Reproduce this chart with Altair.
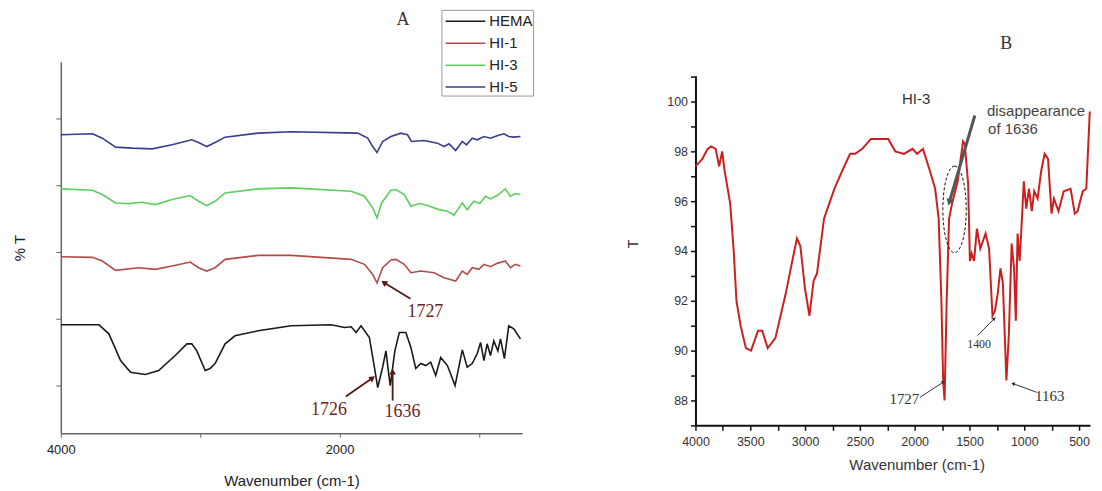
import altair as alt
import pandas as pd

# ---------------- Panel A data (offset %T, arbitrary units) ----------------
series_names = ["HEMA", "HI-1", "HI-3", "HI-5"]
series_colors = ["#1a1a1a", "#b24c4a", "#5ccf5c", "#3a3c8e"]

wn_hema = [4000, 3726, 3655, 3571, 3500, 3393, 3298, 3179, 3095, 3060,
           3024, 2964, 2929, 2893, 2821, 2750, 2584, 2346, 2060, 1964,
           1917, 1881, 1846, 1786, 1750, 1726, 1691, 1667, 1650, 1636,
           1603, 1571, 1524, 1488, 1453, 1417, 1381, 1346, 1310, 1274,
           1226, 1171, 1119, 1084, 1048, 1012, 988, 964, 941, 917,
           893, 864, 845, 817, 786, 750, 702]
t_hema = [38.2, 38.2, 35.5, 27.5, 24.0, 23.3, 24.5, 29.0, 32.5, 32.5,
          30.4, 24.5, 25.1, 26.6, 32.5, 34.9, 36.4, 37.9, 38.2, 37.4,
          37.6, 35.9, 37.9, 34.4, 25.5, 19.4, 25.5, 30.4, 24.5, 20.0,
          30.4, 35.9, 35.9, 31.4, 25.1, 26.6, 26.0, 27.0, 23.0, 28.4,
          26.0, 20.0, 30.7, 25.5, 26.6, 29.6, 32.9, 27.5, 32.5, 29.0,
          33.4, 30.4, 34.0, 28.1, 37.9, 37.0, 34.0]

wn_hi1 = [4000, 3774, 3702, 3607, 3441, 3321, 3202, 3071, 3012, 2953,
          2893, 2821, 2584, 2346, 1917, 1821, 1762, 1731, 1691, 1631,
          1596, 1536, 1488, 1417, 1322, 1250, 1167, 1119, 1084, 1048,
          1000, 964, 917, 869, 810, 774, 738, 702]
t_hi1 = [58.6, 58.4, 57.3, 54.5, 55.3, 54.8, 55.8, 57.0, 55.3, 54.3,
         55.3, 57.8, 59.0, 59.0, 57.8, 56.3, 53.3, 50.7, 55.3, 57.6,
         57.8, 56.3, 53.8, 54.3, 53.8, 52.3, 51.3, 54.3, 53.3, 55.3,
         54.8, 56.3, 55.6, 56.6, 57.3, 55.3, 56.3, 55.8]

wn_hi3 = [4000, 3774, 3702, 3607, 3512, 3417, 3321, 3202, 3071, 3012,
          2953, 2893, 2821, 2584, 2346, 1917, 1821, 1762, 1731, 1698,
          1631, 1596, 1536, 1488, 1429, 1369, 1286, 1226, 1179, 1119,
          1084, 1036, 993, 953, 917, 869, 810, 774, 738, 702]
t_hi3 = [78.9, 78.5, 77.2, 74.7, 74.5, 74.9, 74.2, 75.7, 76.9, 75.2,
         73.9, 75.2, 77.7, 78.9, 79.2, 78.2, 76.7, 73.2, 70.2, 74.7,
         78.5, 78.7, 77.2, 73.7, 74.5, 73.9, 72.7, 72.2, 71.0, 74.7,
         72.7, 75.2, 74.5, 76.7, 75.9, 76.9, 78.9, 76.7, 77.5, 77.2]

wn_hi5 = [4000, 3774, 3702, 3607, 3488, 3345, 3202, 3060, 3012, 2953,
          2893, 2821, 2584, 2346, 1869, 1798, 1762, 1731, 1691, 1631,
          1560, 1512, 1484, 1393, 1298, 1250, 1214, 1167, 1119, 1089,
          1048, 1012, 964, 917, 869, 821, 786, 750, 702]
t_hi5 = [95.1, 95.4, 94.1, 91.4, 91.1, 90.9, 92.1, 93.6, 92.8, 91.6,
         92.8, 94.4, 95.6, 96.0, 95.6, 94.1, 91.6, 89.8, 93.1, 94.6,
         95.6, 95.1, 93.1, 93.4, 92.6, 91.6, 92.4, 90.4, 93.1, 92.1,
         94.1, 93.6, 94.6, 94.1, 94.8, 95.4, 94.6, 94.4, 94.6]

# Panel A annotations (peak labels and arrows), in data units
a_text = ["1727", "1726", "1636"]
a_text_wn = [1384, 2076, 1548]
a_text_t = [42.1, 12.8, 12.2]
a_arrow_wn = [1491, 1955, 1619]
a_arrow_t = [46.0, 16.7, 15.5]
a_head_wn = [1676, 1769, 1619]
a_head_t = [50.7, 22.1, 23.9]
a_head_angle = [302, 55, 0]

# ---------------- Panel B data (HI-3, %T) ----------------
wn_b = [4000, 3937, 3889, 3857, 3816, 3784, 3756, 3737, 3683, 3651,
        3626, 3588, 3540, 3493, 3429, 3391, 3341, 3271, 3176, 3112,
        3074, 3043, 3001, 2960, 2922, 2891, 2827, 2732, 2653, 2589,
        2542, 2478, 2399, 2288, 2241, 2177, 2098, 2019, 1978, 1924,
        1860, 1813, 1781, 1756, 1740, 1727, 1708, 1686, 1654, 1607,
        1559, 1543, 1512, 1496, 1480, 1458, 1432, 1401, 1353, 1321,
        1290, 1267, 1242, 1217, 1195, 1163, 1141, 1115, 1093, 1077,
        1061, 1042, 1027, 1004, 982, 957, 931, 909, 878, 846,
        814, 783, 751, 729, 688, 640, 577, 539, 513, 466,
        434, 402]
t_b = [97.4, 97.7, 98.1, 98.2, 98.1, 97.4, 98.0, 97.3, 95.9, 94.0,
       92.0, 91.0, 90.1, 90.0, 90.8, 90.8, 90.1, 90.5, 92.3, 93.7,
       94.5, 94.2, 92.5, 91.4, 92.8, 93.1, 95.3, 96.5, 97.3, 97.9,
       97.9, 98.1, 98.5, 98.5, 98.5, 98.0, 97.9, 98.1, 97.9, 98.1,
       97.2, 96.5, 95.3, 92.0, 88.8, 88.0, 92.0, 95.3, 96.0, 96.8,
       98.4, 98.3, 96.7, 93.6, 93.9, 93.6, 94.9, 94.1, 94.7, 94.1,
       91.4, 91.6, 92.3, 93.3, 92.7, 88.8, 90.6, 94.3, 93.3, 91.2,
       94.7, 93.6, 94.8, 96.8, 95.7, 96.5, 95.6, 96.4, 96.1, 97.2,
       97.9, 97.7, 95.5, 96.1, 95.6, 96.4, 96.5, 95.5, 95.6, 96.4,
       96.5, 99.6]

# Panel B annotations
b_num_text = ["1727", "1163"]
b_num_wn = [2094, 768]
b_num_t = [88.06, 88.17]
b_small_text = ["1400"]
b_small_wn = [1412]
b_small_t = [90.27]
b_arrow_wn = [1950, 1427, 889]
b_arrow_t = [88.13, 90.6, 88.33]
b_head_wn = [1741, 1277, 1098]
b_head_t = [88.73, 91.27, 88.67]
b_head_angle = [58, 45, 290]
b_dis_text = ["disappearance", "of 1636"]
b_dis_wn = [1340, 1330]
b_dis_t = [99.6, 98.88]
b_big_arrow_wn = [1451]
b_big_arrow_t = [99.44]
b_big_head_wn = [1681]
b_big_head_t = [96.0]
b_big_head_angle = [197]
b_ellipse_wn = [1636]
b_ellipse_t = [95.67]
b_label = ["HI-3"]
b_label_wn = [1986]
b_label_t = [100.1]

SANS = "Liberation Sans"
SERIF = "Liberation Serif"

# ---------------- build panel A ----------------
rows = []
for name, w, t in [("HEMA", wn_hema, t_hema), ("HI-1", wn_hi1, t_hi1),
                   ("HI-3", wn_hi3, t_hi3), ("HI-5", wn_hi5, t_hi5)]:
    for a, b in zip(w, t):
        rows.append({"series": name, "wn": a, "t": b})
dfA = pd.DataFrame(rows)

def xA(field="wn"):
    return alt.X(f"{field}:Q",
                 scale=alt.Scale(domain=[690, 4000], reverse=True, nice=False, zero=False),
                 axis=alt.Axis(values=[4000, 3000, 2000, 1000], format="d",
                               labelExpr="datum.value % 2000 == 0 ? datum.label : ''",
                               title="Wavenumber (cm-1)", grid=False, labelFlush=False,
                               domainColor="#666", domainWidth=1.5, tickColor="#666",
                               tickSize=4, labelFontSize=13, labelColor="#222",
                               labelPadding=6, titleFontSize=15, titlePadding=17,
                               titleColor="#222", titleFontWeight="normal"))

def yA(field="t"):
    return alt.Y(f"{field}:Q",
                 scale=alt.Scale(domain=[5.7, 117], nice=False, zero=False),
                 axis=alt.Axis(values=[20, 40, 60, 80, 100], labels=False, grid=False,
                               title="% T", domainColor="#666", domainWidth=1.5,
                               tickColor="#666", tickSize=5, titleFontSize=15,
                               titlePadding=28, titleColor="#222", titleFontWeight="normal"))

linesA = alt.Chart(dfA).mark_line(strokeWidth=1.6).encode(
    x=xA(), y=yA(),
    color=alt.Color("series:N",
                    scale=alt.Scale(domain=series_names, range=series_colors),
                    legend=alt.Legend(orient="none", legendX=382, legendY=-52,
                                      title=None, strokeColor="#999", fillColor="white",
                                      padding=0, symbolType="M-0.7,0L3.1,0",
                                      symbolSize=441, symbolStrokeWidth=1.5,
                                      labelFont=SANS, labelFontSize=15, labelColor="#222",
                                      labelOffset=25, rowPadding=2)),
    detail="series:N",
)

dfA_text = pd.DataFrame({"wn": a_text_wn, "t": a_text_t, "txt": a_text})
dfA_arrow = pd.DataFrame({"wn": a_arrow_wn, "t": a_arrow_t, "wn2": a_head_wn, "t2": a_head_t})
dfA_head = pd.DataFrame({"wn": a_head_wn, "t": a_head_t, "ang": a_head_angle})

textA = alt.Chart(dfA_text).mark_text(font=SERIF, fontSize=18, color="#6e2323").encode(
    x=xA(), y=yA(), text="txt:N")
arrowA = alt.Chart(dfA_arrow).mark_rule(color="#5a1515", strokeWidth=1.8).encode(
    x=xA(), y=yA(), x2="wn2:Q", y2="t2:Q")
headA = alt.Chart(dfA_head).mark_point(shape="triangle", filled=True, size=45,
                                       color="#5a1515", opacity=1).encode(
    x=xA(), y=yA(), angle=alt.Angle("ang:Q", scale=None))

panelA = alt.layer(linesA, arrowA, headA, textA).properties(
    width=463, height=373,
    title=alt.TitleParams(text="A", font=SERIF, fontSize=18, fontWeight="normal",
                          anchor="middle", dx=112, offset=33, color="#333"))

# ---------------- build panel B ----------------
dfB = pd.DataFrame({"wn": wn_b, "t": t_b})

def xB(field="wn"):
    return alt.X(f"{field}:Q",
                 scale=alt.Scale(domain=[400, 4000], reverse=True, nice=False, zero=False),
                 axis=alt.Axis(values=list(range(500, 4001, 250)), format="d",
                               labelExpr="datum.value % 500 == 0 ? datum.label : ''",
                               title="Wavenumber (cm-1)", grid=False, labelFlush=False,
                               domainColor="#111", domainWidth=2, tickColor="#111",
                               tickWidth=1.5, tickSize=5, labelFontSize=12.5,
                               labelColor="#333", labelPadding=5, titleFontSize=15,
                               titlePadding=10, titleX=222, titleColor="#333",
                               titleFontWeight="normal"))

# the frame of B starts 15 px lower than A's; the scale keeps 25 px per %T unit,
# and the axis line is dashed so that it stops at 101
def yB(field="t"):
    return alt.Y(f"{field}:Q",
                 scale=alt.Scale(domain=[87, 101.6], nice=False, zero=False),
                 axis=alt.Axis(values=list(range(87, 102)), format="d",
                               labelExpr="datum.value % 2 == 0 ? datum.label : ''",
                               grid=False, title="T", domainColor="#111", domainWidth=2,
                               domainDash=[351, 60],
                               tickColor="#111", tickWidth=1.5, tickSize=5,
                               labelFontSize=12.5, labelColor="#333", labelPadding=3,
                               titleFontSize=14, titlePadding=26, titleColor="#333",
                               titleFontWeight="normal"))

lineB = alt.Chart(dfB).mark_line(color="#cc2020", strokeWidth=2).encode(x=xB(), y=yB())

dfB_num = pd.DataFrame({"wn": b_num_wn, "t": b_num_t, "txt": b_num_text})
dfB_small = pd.DataFrame({"wn": b_small_wn, "t": b_small_t, "txt": b_small_text})
dfB_arrow = pd.DataFrame({"wn": b_arrow_wn, "t": b_arrow_t, "wn2": b_head_wn, "t2": b_head_t})
dfB_head = pd.DataFrame({"wn": b_head_wn, "t": b_head_t, "ang": b_head_angle})
dfB_dis = pd.DataFrame({"wn": b_dis_wn, "t": b_dis_t, "txt": b_dis_text})
dfB_big = pd.DataFrame({"wn": b_big_arrow_wn, "t": b_big_arrow_t, "wn2": b_big_head_wn, "t2": b_big_head_t})
dfB_bighead = pd.DataFrame({"wn": b_big_head_wn, "t": b_big_head_t, "ang": b_big_head_angle})
dfB_ell = pd.DataFrame({"wn": b_ellipse_wn, "t": b_ellipse_t})
dfB_lab = pd.DataFrame({"wn": b_label_wn, "t": b_label_t, "txt": b_label})

numB = alt.Chart(dfB_num).mark_text(font=SERIF, fontSize=15, color="#333").encode(
    x=xB(), y=yB(), text="txt:N")
smallB = alt.Chart(dfB_small).mark_text(font=SERIF, fontSize=12, color="#333").encode(
    x=xB(), y=yB(), text="txt:N")
arrowB = alt.Chart(dfB_arrow).mark_rule(color="#333", strokeWidth=1).encode(
    x=xB(), y=yB(), x2="wn2:Q", y2="t2:Q")
headB = alt.Chart(dfB_head).mark_point(shape="triangle", filled=True, size=18,
                                       color="#333", opacity=1).encode(
    x=xB(), y=yB(), angle=alt.Angle("ang:Q", scale=None))
disB = alt.Chart(dfB_dis).mark_text(font=SANS, fontSize=15, color="#444", align="left").encode(
    x=xB(), y=yB(), text="txt:N")
bigB = alt.Chart(dfB_big).mark_rule(color="#555", strokeWidth=3).encode(
    x=xB(), y=yB(), x2="wn2:Q", y2="t2:Q")
bigheadB = alt.Chart(dfB_bighead).mark_point(shape="triangle", filled=True, size=60,
                                             color="#555", opacity=1).encode(
    x=xB(), y=yB(), angle=alt.Angle("ang:Q", scale=None))
ellB = alt.Chart(dfB_ell).mark_point(shape="M0,-1A0.27,1,0,1,1,0,1A0.27,1,0,1,1,0,-1Z",
                                     size=7569, filled=False, color="#111", strokeWidth=1,
                                     strokeDash=[3, 2], opacity=1).encode(x=xB(), y=yB())
labB = alt.Chart(dfB_lab).mark_text(font=SANS, fontSize=15, color="#333").encode(
    x=xB(), y=yB(), text="txt:N")

panelB = alt.layer(lineB, ellB, bigB, bigheadB, arrowB, headB, numB, smallB, disB, labB).properties(
    width=396, height=365,
    title=alt.TitleParams(text="B", font=SERIF, fontSize=18, fontWeight="normal",
                          anchor="middle", dx=114, offset=9, color="#333"))

chart = alt.hconcat(panelA, panelB, spacing=103).properties(
    padding={"left": 4, "top": 0, "right": 0, "bottom": 0}
).configure_view(stroke=None).configure_axis(labelFont=SANS, titleFont=SANS)

chart.save("out.html", embed_options={"renderer": "svg", "actions": False})
